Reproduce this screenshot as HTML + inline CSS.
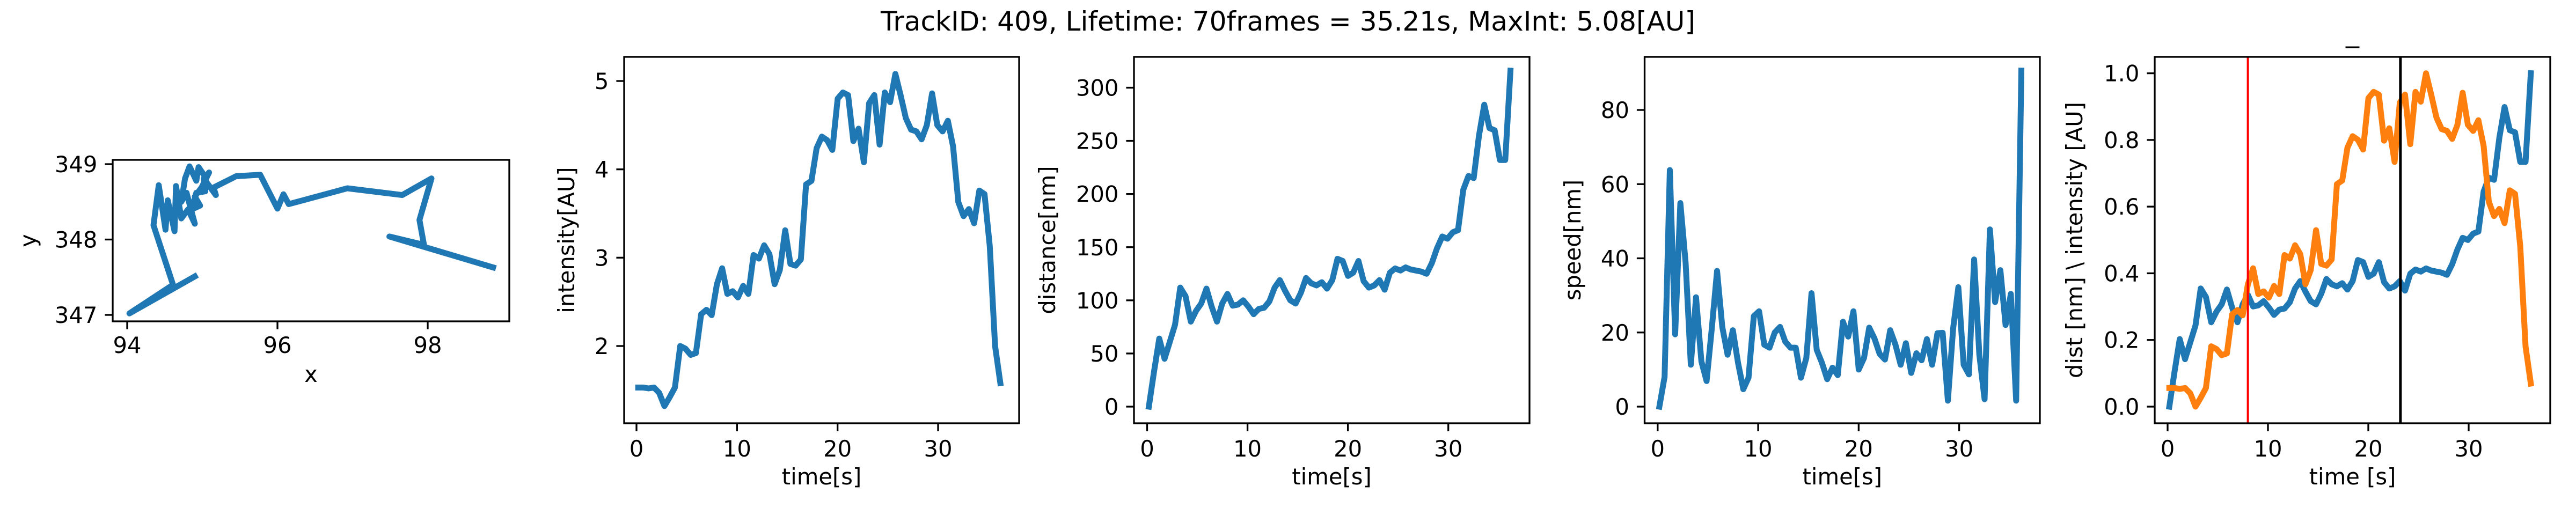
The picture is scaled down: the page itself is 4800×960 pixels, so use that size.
<!DOCTYPE html>
<html><head><meta charset="utf-8"><title>Track 409</title>
<style>
html,body{margin:0;padding:0;background:#fff;}
svg{display:block;font-family:"DejaVu Sans","Liberation Sans",sans-serif;}
</style></head>
<body>
<svg id="fig" xmlns="http://www.w3.org/2000/svg" width="4800" height="960" viewBox="0 0 4800 960">
<rect x="0" y="0" width="4800" height="960" fill="#fff"/>
<text x="2400" y="57" text-anchor="middle" font-size="50" textLength="1518" lengthAdjust="spacingAndGlyphs">TrackID: 409, Lifetime: 70frames = 35.21s, MaxInt: 5.08[AU]</text>
</svg>
<script>
// ---- data ----
const times = [0.17,0.69,1.21,1.74,2.26,2.78,3.30,3.82,4.35,4.87,5.39,5.91,6.43,6.96,7.48,8.00,8.52,9.04,9.57,10.09,10.61,11.13,11.65,12.18,12.70,13.22,13.74,14.26,14.79,15.31,15.83,16.35,16.87,17.40,17.92,18.44,18.96,19.48,20.01,20.53,21.05,21.57,22.09,22.62,23.14,23.66,24.18,24.70,25.23,25.75,26.27,26.79,27.31,27.84,28.36,28.88,29.40,29.92,30.45,30.97,31.49,32.01,32.53,33.06,33.58,34.10,34.62,35.14,35.67,36.19];
const intensity = [1.53,1.53,1.52,1.53,1.47,1.32,1.42,1.53,2.0,1.97,1.90,1.92,2.36,2.41,2.35,2.70,2.88,2.59,2.62,2.55,2.68,2.59,3.03,2.99,3.14,3.04,2.70,2.86,3.31,2.93,2.91,2.98,3.83,3.87,4.24,4.37,4.33,4.22,4.80,4.87,4.84,4.32,4.46,4.08,4.75,4.84,4.28,4.87,4.76,5.08,4.84,4.58,4.45,4.43,4.34,4.50,4.86,4.50,4.43,4.55,4.26,3.63,3.47,3.55,3.39,3.76,3.72,3.13,2.0,1.58];
const distance = [0,33,64,45,61,77,112,104,80,90,97,111,94,80,97,106,95,96,100,94,87,92,93,99,112,119,109,100,97,107,121,116,114,117,111,119,139,137,123,126,137,118,112,114,119,110,126,130,128,131,129,128,127,125,135,149,160,158,164,166,204,217,215,255,284,262,260,232,232,316];
const speed = [0,8,63.8,19.5,54.9,38.8,11.3,29.5,12.2,6.9,21.1,36.6,21.5,14,20.6,11.8,4.7,7.8,24.4,25.7,16.7,15.9,20,21.5,17.5,15.9,15.9,7.8,13.1,30.6,15.3,11.8,7.4,10.5,8.5,22.9,18.9,25.7,10,13.1,21.3,18.4,14.2,12.7,20.6,16.7,11.3,17.1,9.1,14.4,12.5,18.2,11.3,19.8,19.9,1.6,21.1,32.2,11.3,8.7,39.7,14,2,47.8,28.2,36.8,22,30.4,1.6,90.6];
const trackX = [94.90,94.03,94.61,94.35,94.42,94.51,94.54,94.63,94.65,94.72,94.81,94.90,94.79,94.72,94.77,94.83,94.92,94.95,95.04,95.09,94.99,94.90,94.97,94.86,94.92,95.04,95.02,95.18,95.15,95.45,95.77,96.00,96.08,96.15,96.93,97.66,98.05,97.89,97.95,97.49,98.87];
const trackY = [347.51,347.02,347.40,348.19,348.72,348.13,348.52,348.11,348.71,348.28,348.40,348.21,348.62,348.50,348.81,348.97,348.78,348.96,348.83,348.89,348.69,348.57,348.45,348.40,348.62,348.64,348.81,348.59,348.69,348.84,348.86,348.41,348.60,348.47,348.68,348.59,348.81,348.26,347.93,348.04,347.63];
const markerStart = [8.0];
const markerEnd = [23.2];
const timeTicks = [0,10,20,30];
const trackXTicks = [94,96,98];
const trackYTicks = [347,348,349];
const intensityTicks = [2,3,4,5];
const distanceTicks = [0,50,100,150,200,250,300];
const speedTicks = [0,20,40,60,80];
const normTicks = [0,0.2,0.4,0.6,0.8,1.0];
const normTickLabels = ["0.0","0.2","0.4","0.6","0.8","1.0"];

// ---- helpers ----
const NS = "http://www.w3.org/2000/svg";
const fig = document.getElementById('fig');
function el(tag, attrs, parent){ const e=document.createElementNS(NS,tag); for(const k in attrs) e.setAttribute(k,attrs[k]); (parent||fig).appendChild(e); return e; }
function lin(d0,p0,d1,p1){ return v => p0 + (v-d0)*(p1-p0)/(d1-d0); }
const BLUE="#1f77b4", ORANGE="#ff7f0e", FS=41.7, TL=14.6, SW=3.3;

function panel(name, box, sx, sy, xt, xtl, yt, ytl, xlabel, ylabel, ylabX, xlabY, tlY){
  const g = el('g',{});
  
  
  xt.forEach((v,i)=>{
    const x=sx(v);
    const t=el('line',{x1:x,x2:x,y1:box.b,y2:box.b+TL,stroke:'#000','stroke-width':SW},g);
    
    
    const l=el('text',{x:x,y:tlY,'text-anchor':'middle','font-size':FS},g);
    
    
    l.textContent=xtl[i];
  });
  yt.forEach((v,i)=>{
    const y=sy(v);
    const t=el('line',{x1:box.l-TL,x2:box.l,y1:y,y2:y,stroke:'#000','stroke-width':SW},g);
    
    
    const l=el('text',{x:box.l-TL-14,y:y+15,'text-anchor':'end','font-size':FS},g);
    
    
    l.textContent=ytl[i];
  });
  const xl=el('text',{x:(box.l+box.r)/2,y:xlabY,'text-anchor':'middle','font-size':FS},g);
  
  
  xl.textContent=xlabel;
  const cy=(box.t+box.b)/2;
  const yl=el('text',{x:ylabX,y:cy,'text-anchor':'middle','font-size':FS,transform:`rotate(-90 ${ylabX} ${cy})`},g);
  
  
  yl.textContent=ylabel;
  const clip=el('clipPath',{id:name+'-clip'},g);
  el('rect',{x:box.l,y:box.t,width:box.r-box.l,height:box.b-box.t},clip);
  const plot=el('g',{'clip-path':`url(#${name}-clip)`},g);
  
  
  return {g,plot,box};
}
function frame(p,name){
  const r=el('rect',{x:p.box.l,y:p.box.t,width:p.box.r-p.box.l,height:p.box.b-p.box.t,fill:'none',stroke:'#000','stroke-width':SW},p.g);
  
  
}
function series(p,xs,ys,sx,sy,color,w,name){
  const pts=xs.map((x,i)=>sx(x).toFixed(1)+','+sy(ys[i]).toFixed(1)).join(' ');
  const pl=el('polyline',{points:pts,fill:'none',stroke:color,'stroke-width':w,'stroke-linejoin':'round','stroke-linecap':'square'},p.plot);
  
  
}

// ---- panel 1: trajectory ----
{
  const box={l:210,r:949,t:298,b:599};
  const sx=lin(94,237,98,797), sy=lin(347,587,349,306);
  const p=panel('trajectory-panel',box,sx,sy,trackXTicks,trackXTicks.map(String),trackYTicks,trackYTicks.map(String),'x','y',67,712,658);
  series(p,trackX,trackY,sx,sy,BLUE,11,'trajectory-line');
  frame(p,'trajectory-panel');
}
// ---- panel 2: intensity ----
{
  const box={l:1163,r:1899,t:106,b:789};
  const sx=lin(0,1186,30,1748), sy=lin(2,645,5,151);
  const p=panel('intensity-panel',box,sx,sy,timeTicks,timeTicks.map(String),intensityTicks,intensityTicks.map(String),'time[s]','intensity[AU]',1070,903,851);
  series(p,times,intensity,sx,sy,BLUE,11,'intensity-line');
  frame(p,'intensity-panel');
}
// ---- panel 3: distance ----
{
  const box={l:2113,r:2850,t:106,b:789};
  const sx=lin(0,2137.5,30,2698.7), sy=lin(0,758,300,163.5);
  const p=panel('distance-panel',box,sx,sy,timeTicks,timeTicks.map(String),distanceTicks,distanceTicks.map(String),'time[s]','distance[nm]',1966,903,851);
  series(p,times,distance,sx,sy,BLUE,11,'distance-line');
  frame(p,'distance-panel');
}
// ---- panel 4: speed ----
{
  const box={l:3064.5,r:3801,t:106,b:789};
  const sx=lin(0,3088.8,30,3650.6), sy=lin(0,758,80,205);
  const p=panel('speed-panel',box,sx,sy,timeTicks,timeTicks.map(String),speedTicks,speedTicks.map(String),'time[s]','speed[nm]',2945,903,851);
  series(p,times,speed,sx,sy,BLUE,11,'speed-line');
  frame(p,'speed-panel');
}
// ---- panel 5: normalized ----
{
  const box={l:4015,r:4752,t:106,b:789};
  const sx=lin(0,4039,30,4600), sy=lin(0,758,1,136.6);
  const p=panel('normalized-panel',box,sx,sy,timeTicks,timeTicks.map(String),normTicks,normTickLabels,'time [s]','dist [nm] \\ intensity [AU]',3880,903,851);
  const dmax=Math.max(...distance);
  const imin=Math.min(...intensity), imax=Math.max(...intensity);
  series(p,times,distance.map(d=>d/dmax),sx,sy,BLUE,11,'normalized-distance-line');
  series(p,times,intensity.map(v=>(v-imin)/(imax-imin)),sx,sy,ORANGE,11,'normalized-intensity-line');
  markerStart.forEach(t=>{
    const l=el('line',{x1:sx(t),x2:sx(t),y1:box.t,y2:box.b,stroke:'#ff0000','stroke-width':4},p.plot);
    
    
  });
  markerEnd.forEach(t=>{
    const l=el('line',{x1:sx(t),x2:sx(t),y1:box.t,y2:box.b,stroke:'#000','stroke-width':5},p.plot);
    
    
  });
  frame(p,'normalized-panel');
  const tt=el('text',{x:(box.l+box.r)/2,y:78,'text-anchor':'middle','font-size':50});
  
  
  tt.textContent='_';
}
</script>
</body></html>
